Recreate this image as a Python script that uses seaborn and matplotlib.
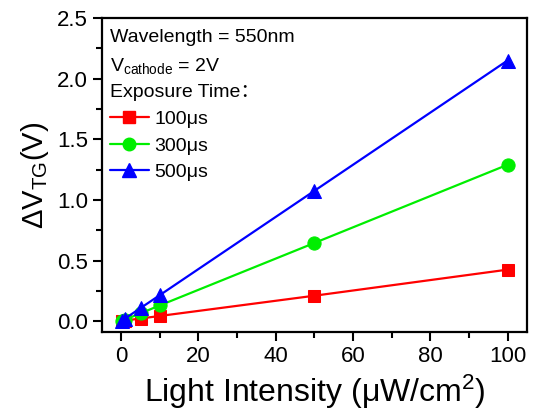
import matplotlib
matplotlib.use("Agg")
import matplotlib.pyplot as plt
import seaborn as sns
import pandas as pd
from matplotlib.ticker import MultipleLocator
from matplotlib.lines import Line2D

intensity = [0.1, 1, 5, 10, 50, 100]
dv_100us = [0.0, 0.005, 0.022, 0.043, 0.21, 0.425]
dv_300us = [0.0, 0.013, 0.065, 0.13, 0.645, 1.29]
dv_500us = [0.0, 0.022, 0.108, 0.215, 1.075, 2.15]
series_labels = ["100\u03bcs", "300\u03bcs", "500\u03bcs"]
colors = ["#ff0000", "#00ee00", "#0000ff"]
markers = ["s", "o", "^"]

rows = []
for lab, vals in zip(series_labels, [dv_100us, dv_300us, dv_500us]):
    for x, y in zip(intensity, vals):
        rows.append({"x": x, "y": y, "s": lab})
df = pd.DataFrame(rows)

sns.set_style("ticks")
plt.rcParams['font.family'] = ['Liberation Sans', 'Noto Sans CJK SC', 'DejaVu Sans']
plt.rcParams['mathtext.fontset'] = 'custom'
plt.rcParams['mathtext.rm'] = 'Liberation Sans'
plt.rcParams['mathtext.it'] = 'Liberation Sans'
for k in ['text.color', 'axes.labelcolor', 'xtick.color', 'ytick.color', 'axes.edgecolor']:
    plt.rcParams[k] = 'black'

fig = plt.figure(figsize=(5.42, 4.11), dpi=100)
ax = fig.add_axes([0.188, 0.192, 0.784, 0.764])

sizes = {"s": 8.5, "o": 9.5, "^": 10.5}
for lab, c, m in zip(series_labels, colors, markers):
    sub = df[df.s == lab]
    sns.lineplot(data=sub, x="x", y="y", ax=ax, color=c, marker=m,
                 markersize=sizes[m], markeredgecolor=c, linewidth=1.6,
                 legend=False)

ax.set_xlim(-5, 105)
ax.set_ylim(-0.09, 2.5)
ax.xaxis.set_major_locator(MultipleLocator(20))
ax.xaxis.set_minor_locator(MultipleLocator(10))
ax.yaxis.set_major_locator(MultipleLocator(0.5))
ax.yaxis.set_minor_locator(MultipleLocator(0.25))
ax.yaxis.set_major_formatter(matplotlib.ticker.FormatStrFormatter('%.1f'))
ax.tick_params(which='major', direction='out', length=6.5, width=1.5, labelsize=16, colors='black')
ax.tick_params(which='minor', direction='out', length=4.5, width=1.5, colors='black')
for sp in ax.spines.values():
    sp.set_linewidth(1.6)
    sp.set_color('black')

ax.set_xlabel("Light Intensity (\u03bcW/cm$^2$)", fontsize=23, labelpad=4)
ax.set_ylabel("\u0394V$_{\\mathrm{TG}}$(V)", fontsize=21, labelpad=4)

fs = 14
ax.text(0.02, 0.965, "Wavelength = 550nm", transform=ax.transAxes, fontsize=fs, va='top')
ax.text(0.02, 0.88, "V$_{\\mathrm{cathode}}$ = 2V", transform=ax.transAxes, fontsize=fs, va='top')
ax.text(0.02, 0.79, "Exposure Time\uff1a", transform=ax.transAxes, fontsize=fs, va='top')

handles = [Line2D([], [], color=c, marker=m, markersize=sizes[m] * 0.95, linewidth=1.6)
           for c, m in zip(colors, markers)]
ax.legend(handles, series_labels, loc='upper left', bbox_to_anchor=(0.0, 0.73),
          frameon=False, fontsize=fs, handlelength=2.0, handletextpad=0.3,
          labelspacing=0.45, borderaxespad=0)

fig.savefig("out.png", dpi=100)
